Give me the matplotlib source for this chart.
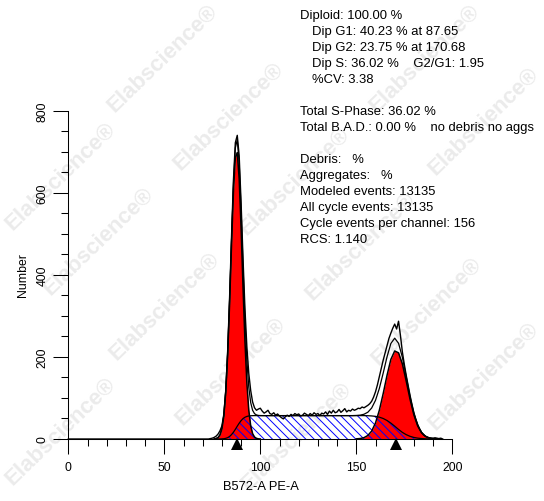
import matplotlib
matplotlib.use("Agg")
import matplotlib.pyplot as plt
import numpy as np

# raw histogram counts, one value per channel, starting at channel 70
raw_first_channel = 70
raw_counts = [
    0, 0, 0, 0, 1, 2, 4, 7, 12, 20,
    32, 60, 118, 215, 345, 492, 630, 722, 740, 690,
    575, 440, 318, 225, 160, 118, 90, 76, 70, 73,
    75, 68, 63, 66, 70, 62, 60, 64, 58, 61,
    56, 52, 49, 54, 58, 55, 60, 57, 62, 59,
    61, 56, 58, 63, 60, 57, 62, 58, 64, 60,
    62, 57, 63, 61, 66, 60, 68, 63, 70, 64,
    66, 72, 65, 69, 74, 66, 70, 68, 73, 70,
    72, 75, 74, 78, 76, 79, 82, 86, 92, 102,
    115, 132, 152, 172, 192, 210, 228, 245, 258, 270,
    280, 268, 287, 252, 212, 182, 155, 130, 106, 84,
    64, 48, 35, 24, 16, 10, 7, 4, 3, 2,
    2, 3, 2, 1, 2, 0,
]

# fitted model components (channels 76..100 by 1, then 102..192 by 2)
fit_channels = list(range(76, 101)) + list(range(102, 193, 2))
g1_fit = [
    0.3, 1.1, 3.5, 9.8, 25, 56, 114, 205, 329, 471,
    602, 686, 698, 634, 513, 370, 239, 137, 70, 32,
    13, 4.8, 1.6, 0.4, 0.1,
    0, 0, 0, 0, 0, 0, 0, 0, 0, 0, 0, 0, 0, 0, 0, 0, 0, 0, 0, 0, 0, 0, 0, 0,
    0, 0, 0, 0, 0, 0, 0, 0, 0, 0, 0, 0, 0, 0, 0, 0, 0, 0, 0, 0, 0, 0,
]
g2_fit = [
    0, 0, 0, 0, 0, 0, 0, 0, 0, 0, 0, 0, 0, 0, 0, 0, 0, 0, 0, 0, 0, 0, 0, 0, 0,
    0, 0, 0, 0, 0, 0, 0, 0, 0, 0, 0, 0, 0, 0, 0, 0, 0, 0, 0, 0, 0, 0, 0, 0,
    0.35, 1.1, 3.3, 8.5, 19.3, 39, 70, 110.5, 155, 194,
    214.5, 210, 183, 141, 96.6, 58.6, 31.5, 15, 6.4, 2.4, 0.8, 0.2,
]
s_fit = [
    0, 0.01, 0.03, 0.1, 0.28, 0.7, 1.6, 3.3, 6.2, 10.6,
    16.5, 23.5, 31.2, 38.5, 44.8, 49.7, 53.0, 55.0, 56.1, 56.6,
    56.9, 57, 57, 57, 57,
    57, 57, 57, 57, 57, 57, 57, 57, 57, 57, 57, 57, 57, 57,
    57, 57, 57, 57, 57, 57, 57, 57, 57, 57, 57, 57, 57,
    56.7, 56.2, 55.2, 53.2, 50.0, 45.1, 38.7, 31.2, 23.3, 16.1,
    10.6, 6.5, 3.8, 2.1, 1.1, 0.5, 0.2, 0, 0,
]

g1_mean = 87.65
g2_mean = 170.68

info_lines = [
    ("Diploid: 100.00 %", False),
    ("Dip G1: 40.23 % at 87.65", True),
    ("Dip G2: 23.75 % at 170.68", True),
    ("Dip S: 36.02 %    G2/G1: 1.95", True),
    ("%CV: 3.38", True),
    None,
    ("Total S-Phase: 36.02 %", False),
    ("Total B.A.D.: 0.00 %    no debris no aggs", False),
    None,
    ("Debris:   %", False),
    ("Aggregates:   %", False),
    ("Modeled events: 13135", False),
    ("All cycle events: 13135", False),
    ("Cycle events per channel: 156", False),
    ("RCS: 1.140", False),
]

plt.rcParams["font.family"] = ["Liberation Sans", "DejaVu Sans"]
plt.rcParams["hatch.linewidth"] = 0.7

W, H = 544, 502
fig = plt.figure(figsize=(W / 100, H / 100), dpi=100)
ax = fig.add_axes([68.3 / W, 1 - 440 / H, 384 / W, 328.3 / H])
ax.patch.set_alpha(0)

# watermark tiles behind the plot
marks = []
for i in range(-3, 6):
    for j in range(-4, 10):
        px = 163 + 130 * i + 66 * j
        py = 52 - 125 * i + 65 * j
        if -120 < px < W + 120 and -120 < py < H + 120:
            marks.append(fig.text(px / W, 1 - py / H, "Elabscience\u00ae",
                                  rotation=44, ha="center", va="center",
                                  fontsize=16, fontweight="bold",
                                  color="#ebebeb", zorder=-1))

# keep the tiles inside the picture: nudge the ones near an edge, drop the rest
fig.canvas.draw()
renderer = fig.canvas.get_renderer()
for t in marks:
    bb = t.get_window_extent(renderer)
    dx = max(0.0, 1 - bb.x0) - max(0.0, bb.x1 - (W - 1))
    dy = max(0.0, 1 - bb.y0) - max(0.0, bb.y1 - (H - 1))
    if abs(dx) > 45 or abs(dy) > 45:
        t.remove()
    elif dx or dy:
        x0, y0 = t.get_position()
        t.set_position((x0 + dx / W, y0 + dy / H))

x_fit = np.array(fit_channels, dtype=float)
g1 = np.array(g1_fit, dtype=float)
g2 = np.array(g2_fit, dtype=float)
s = np.array(s_fit, dtype=float)
total = g1 + g2 + s

raw = np.concatenate([np.zeros(raw_first_channel), np.array(raw_counts, dtype=float)])
x_raw = np.arange(len(raw))

ax.fill_between(x_fit, g1, color="#ff0000", lw=0, zorder=2)
ax.fill_between(x_fit, g2, color="#ff0000", lw=0, zorder=2)
ax.fill_between(x_fit, s, facecolor="none", edgecolor="#0000ff",
                hatch="\\\\\\\\", lw=0, zorder=3)

ax.plot(x_fit, np.where(g1 > 0, g1, np.nan), color="k", lw=1.1, zorder=4)
ax.plot(x_fit, np.where(g2 > 0, g2, np.nan), color="k", lw=1.1, zorder=4)
ax.plot(x_fit, np.where(s > 0, s, np.nan), color="k", lw=0.9, zorder=4)
ax.plot(x_fit, total, color="k", lw=0.9, zorder=5)
ax.plot(x_raw, raw, color="k", lw=1.0, zorder=5, clip_on=False)

ax.plot([g1_mean, g2_mean], [-13, -13], "^", color="k", ms=9, mew=0,
        clip_on=False, zorder=6)

ax.set_xlim(0, 200)
ax.set_ylim(0, 800)
ax.set_xticks(np.arange(0, 201, 50))
ax.set_xticks(np.arange(0, 201, 10), minor=True)
ax.set_yticks(np.arange(0, 801, 200))
ax.set_yticks(np.arange(0, 801, 50), minor=True)
ax.tick_params(which="major", length=10.8, width=0.75, labelsize=8.7)
ax.tick_params(which="minor", length=5.3, width=0.75)
ax.tick_params(axis="x", which="major", pad=5.2)
ax.tick_params(axis="y", which="major", pad=3.4)
plt.setp(ax.get_yticklabels(), rotation=90, va="center")
for side in ("top", "right"):
    ax.spines[side].set_visible(False)
for side in ("left", "bottom"):
    ax.spines[side].set_linewidth(0.75)

fig.text(22.7 / W, 1 - 275 / H, "Number", rotation=90, ha="center",
         va="center", fontsize=8.8)
fig.text(260.5 / W, 1 - 486.7 / H, "B572-A PE-A", ha="center",
         va="center", fontsize=9.3)

for k, item in enumerate(info_lines):
    if item is None:
        continue
    text, indented = item
    x0 = 312.3 if indented else 300
    fig.text(x0 / W, 1 - (16 + 16 * k) / H, text, ha="left", va="center",
             fontsize=9.4)

fig.savefig("out.png", dpi=100)
